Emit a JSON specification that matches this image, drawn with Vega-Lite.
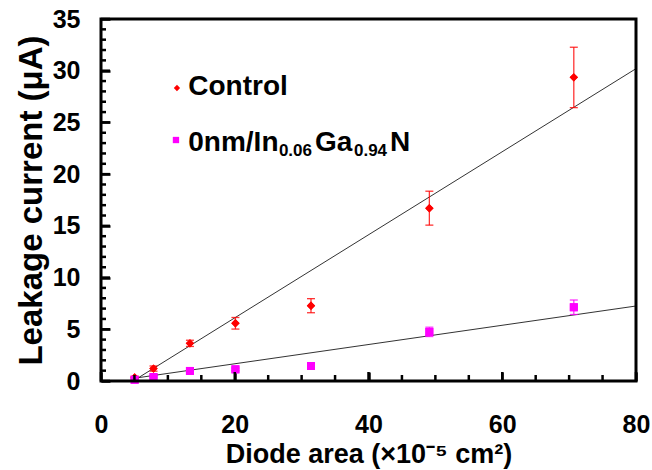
{
  "$schema": "https://vega.github.io/schema/vega-lite/v6.json",
  "width": 535,
  "height": 362,
  "autosize": "none",
  "padding": {"left": 101, "top": 19, "right": 16, "bottom": 89},
  "background": "white",
  "view": {"stroke": null},
  "datasets": {
    "measurements": [
      {"series": "Control", "area": 5.03, "current": 0.35, "lo": 0.25, "hi": 0.45},
      {"series": "Control", "area": 7.85, "current": 1.2, "lo": 0.95, "hi": 1.45},
      {"series": "Control", "area": 13.3, "current": 3.64, "lo": 3.34, "hi": 3.94},
      {"series": "Control", "area": 20.1, "current": 5.58, "lo": 5.02, "hi": 6.14},
      {"series": "Control", "area": 31.4, "current": 7.28, "lo": 6.6, "hi": 7.96},
      {"series": "Control", "area": 49.1, "current": 16.7, "lo": 15.07, "hi": 18.35},
      {"series": "Control", "area": 70.7, "current": 29.36, "lo": 26.43, "hi": 32.27},
      {"series": "InGaN", "area": 5.03, "current": 0.12, "lo": 0.07, "hi": 0.17},
      {"series": "InGaN", "area": 7.85, "current": 0.38, "lo": 0.3, "hi": 0.46},
      {"series": "InGaN", "area": 13.3, "current": 0.97, "lo": 0.87, "hi": 1.07},
      {"series": "InGaN", "area": 20.1, "current": 1.13, "lo": 1.01, "hi": 1.25},
      {"series": "InGaN", "area": 31.4, "current": 1.45, "lo": 1.35, "hi": 1.55},
      {"series": "InGaN", "area": 49.1, "current": 4.74, "lo": 4.3, "hi": 5.2},
      {"series": "InGaN", "area": 70.7, "current": 7.13, "lo": 6.43, "hi": 7.83}
    ],
    "fits": [
      {"series": "Control", "area": 4.8, "current": 0.0},
      {"series": "Control", "area": 80, "current": 30.2},
      {"series": "InGaN", "area": 4.8, "current": 0.25},
      {"series": "InGaN", "area": 80, "current": 7.25}
    ],
    "keySymbols": [
      {"series": "Control", "area": 11.36, "current": 28.33},
      {"series": "InGaN", "area": 11.21, "current": 23.3}
    ],
    "keyText": [
      {"label": "Control", "area": 13.05, "current": 27.65},
      {"label": "0nm/In", "area": 13.05, "current": 22.27},
      {"label": "Ga", "area": 32.0, "current": 22.27},
      {"label": "N", "area": 43.2, "current": 22.27}
    ],
    "keySubscripts": [
      {"label": "0.06", "area": 26.6, "current": 21.75},
      {"label": "0.94", "area": 37.83, "current": 21.75}
    ],
    "yMinorTicks": [
      {"v": 1}, {"v": 2}, {"v": 3}, {"v": 4}, {"v": 6}, {"v": 7}, {"v": 8}, {"v": 9},
      {"v": 11}, {"v": 12}, {"v": 13}, {"v": 14}, {"v": 16}, {"v": 17}, {"v": 18}, {"v": 19},
      {"v": 21}, {"v": 22}, {"v": 23}, {"v": 24}, {"v": 26}, {"v": 27}, {"v": 28}, {"v": 29},
      {"v": 31}, {"v": 32}, {"v": 33}, {"v": 34}
    ],
    "yMajorTicks": [
      {"v": 0}, {"v": 5}, {"v": 10}, {"v": 15}, {"v": 20}, {"v": 25}, {"v": 30}, {"v": 35}
    ],
    "xMinorTicks": [
      {"v": 5}, {"v": 10}, {"v": 15}, {"v": 25}, {"v": 30}, {"v": 35},
      {"v": 45}, {"v": 50}, {"v": 55}, {"v": 65}, {"v": 70}, {"v": 75}
    ],
    "xMajorTicks": [
      {"v": 0}, {"v": 20}, {"v": 40}, {"v": 60}, {"v": 80}
    ]
  },
  "layer": [
    {
      "data": {"name": "measurements"},
      "mark": {"type": "point", "filled": true, "opacity": 1},
      "encoding": {
        "x": {
          "field": "area", "type": "quantitative",
          "scale": {"domain": [0, 80], "nice": false},
          "axis": {
            "orient": "bottom",
            "values": [0, 20, 40, 60, 80],
            "domain": false, "grid": false, "ticks": true,
            "tickColor": "#000000", "tickWidth": 2.5, "tickSize": 9, "offset": -9,
            "labelFont": "Liberation Sans", "labelFontWeight": "bold", "labelFontSize": 25, "labelColor": "#000000",
            "labelPadding": 31, "labelFlush": false, "labelOverlap": false,
            "title": "Diode area (×10⁻⁵ cm²)",
            "titleFont": "Liberation Sans", "titleFontWeight": "bold", "titleFontSize": 27, "titleColor": "#000000", "titlePadding": 4
          }
        },
        "y": {
          "field": "current", "type": "quantitative",
          "scale": {"domain": [0, 35], "nice": false},
          "axis": {
            "orient": "left",
            "values": [0, 5, 10, 15, 20, 25, 30, 35],
            "domain": false, "grid": false, "ticks": true,
            "tickColor": "#000000", "tickWidth": 2.5, "tickSize": 9, "offset": -9,
            "labelFont": "Liberation Sans", "labelFontWeight": "bold", "labelFontSize": 25, "labelColor": "#000000",
            "labelPadding": 21, "labelFlush": false, "labelOverlap": false,
            "title": "Leakage current (μA)",
            "titleFont": "Liberation Sans", "titleFontWeight": "bold", "titleFontSize": 33, "titleColor": "#000000", "titlePadding": 4
          }
        },
        "color": {"field": "series", "type": "nominal", "scale": {"domain": ["Control", "InGaN"], "range": ["#ff0000", "#ff00ff"]}, "legend": null},
        "shape": {"field": "series", "type": "nominal", "scale": {"domain": ["Control", "InGaN"], "range": ["diamond", "square"]}, "legend": null},
        "size": {"field": "series", "type": "nominal", "scale": {"domain": ["Control", "InGaN"], "range": [70, 64]}, "legend": null}
      }
    },
    {
      "data": {"name": "fits"},
      "mark": {"type": "line", "color": "#333333", "strokeWidth": 1},
      "encoding": {
        "x": {"field": "area", "type": "quantitative"},
        "y": {"field": "current", "type": "quantitative"},
        "detail": {"field": "series"}
      }
    },
    {
      "data": {"name": "measurements"},
      "mark": {"type": "rule", "strokeWidth": 1.3},
      "encoding": {
        "x": {"field": "area", "type": "quantitative"},
        "y": {"field": "lo", "type": "quantitative"},
        "y2": {"field": "hi"},
        "color": {"field": "series", "type": "nominal", "legend": null},
        "opacity": {"value": 0.8}
      }
    },
    {
      "data": {"name": "measurements"},
      "mark": {"type": "tick", "orient": "horizontal", "size": 8, "thickness": 1.3},
      "encoding": {
        "x": {"field": "area", "type": "quantitative"},
        "y": {"field": "lo", "type": "quantitative"},
        "color": {"field": "series", "type": "nominal", "legend": null},
        "opacity": {"value": 0.8}
      }
    },
    {
      "data": {"name": "measurements"},
      "mark": {"type": "tick", "orient": "horizontal", "size": 8, "thickness": 1.3},
      "encoding": {
        "x": {"field": "area", "type": "quantitative"},
        "y": {"field": "hi", "type": "quantitative"},
        "color": {"field": "series", "type": "nominal", "legend": null},
        "opacity": {"value": 0.8}
      }
    },
    {
      "data": {"name": "measurements"},
      "mark": {"type": "point", "filled": true, "opacity": 1},
      "encoding": {
        "x": {"field": "area", "type": "quantitative"},
        "y": {"field": "current", "type": "quantitative"},
        "color": {"field": "series", "type": "nominal", "legend": null},
        "shape": {"field": "series", "type": "nominal", "legend": null},
        "size": {"field": "series", "type": "nominal", "legend": null}
      }
    },
    {
      "data": {"name": "keySymbols"},
      "mark": {"type": "point", "filled": true, "opacity": 1, "size": 40},
      "encoding": {
        "x": {"field": "area", "type": "quantitative"},
        "y": {"field": "current", "type": "quantitative"},
        "color": {"field": "series", "type": "nominal", "legend": null},
        "shape": {"field": "series", "type": "nominal", "legend": null}
      }
    },
    {
      "data": {"name": "keyText"},
      "mark": {"type": "text", "align": "left", "baseline": "alphabetic", "font": "Liberation Sans", "fontWeight": "bold", "fontSize": 28, "color": "#000000"},
      "encoding": {
        "x": {"field": "area", "type": "quantitative"},
        "y": {"field": "current", "type": "quantitative"},
        "text": {"field": "label"}
      }
    },
    {
      "data": {"name": "keySubscripts"},
      "mark": {"type": "text", "align": "left", "baseline": "alphabetic", "font": "Liberation Sans", "fontWeight": "bold", "fontSize": 17, "color": "#000000"},
      "encoding": {
        "x": {"field": "area", "type": "quantitative"},
        "y": {"field": "current", "type": "quantitative"},
        "text": {"field": "label"}
      }
    },
    {
      "data": {"name": "yMinorTicks"},
      "mark": {"type": "tick", "orient": "horizontal", "size": 5, "thickness": 2.5, "color": "#000000", "opacity": 1, "xOffset": 2.5},
      "encoding": {
        "x": {"datum": 0, "type": "quantitative"},
        "y": {"field": "v", "type": "quantitative"}
      }
    },
    {
      "data": {"name": "yMajorTicks"},
      "mark": {"type": "tick", "orient": "horizontal", "size": 9, "thickness": 2.5, "color": "#000000", "opacity": 1, "xOffset": 4.5},
      "encoding": {
        "x": {"datum": 0, "type": "quantitative"},
        "y": {"field": "v", "type": "quantitative"}
      }
    },
    {
      "data": {"name": "xMinorTicks"},
      "mark": {"type": "tick", "orient": "vertical", "size": 6, "thickness": 2.5, "color": "#000000", "opacity": 1, "yOffset": -3},
      "encoding": {
        "x": {"field": "v", "type": "quantitative"},
        "y": {"datum": 0, "type": "quantitative"}
      }
    },
    {
      "data": {"name": "xMajorTicks"},
      "mark": {"type": "tick", "orient": "vertical", "size": 9, "thickness": 2.5, "color": "#000000", "opacity": 1, "yOffset": -4.5},
      "encoding": {
        "x": {"field": "v", "type": "quantitative"},
        "y": {"datum": 0, "type": "quantitative"}
      }
    },
    {
      "data": {"values": [{}]},
      "mark": {"type": "rect", "filled": false, "stroke": "#000000", "strokeWidth": 3, "strokeOpacity": 1},
      "encoding": {
        "x": {"datum": 0, "type": "quantitative"},
        "x2": {"datum": 80},
        "y": {"datum": 0, "type": "quantitative"},
        "y2": {"datum": 35}
      }
    }
  ]
}
